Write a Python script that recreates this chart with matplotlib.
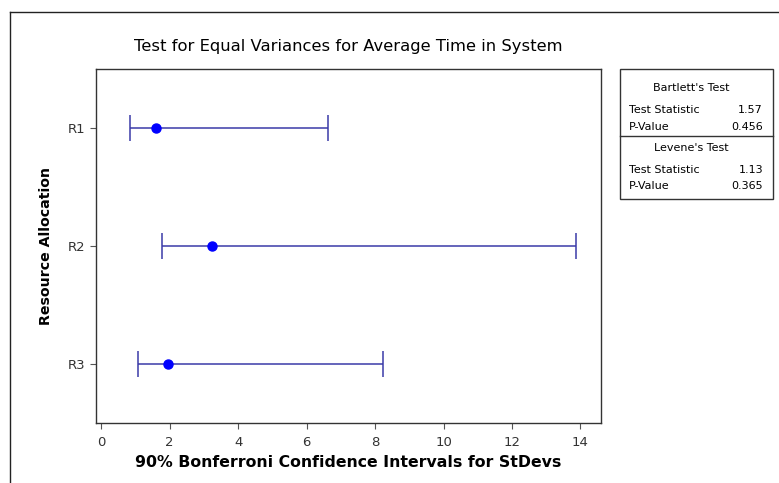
import matplotlib
matplotlib.use('Agg')
import matplotlib.pyplot as plt
from matplotlib.lines import Line2D

grupos = ['R1', 'R2', 'R3']
desvio = [1.60, 3.25, 1.95]
limite_inf = [0.85, 1.78, 1.08]
limite_sup = [6.62, 13.86, 8.22]
xticks = [0, 2, 4, 6, 8, 10, 12, 14]

bartlett = [('Test Statistic', '1.57'), ('P-Value', '0.456')]
levene = [('Test Statistic', '1.13'), ('P-Value', '0.365')]

plt.rcParams['font.family'] = ['DejaVu Sans']

fig = plt.figure(figsize=(7.79, 4.83), dpi=100)
ax = fig.add_axes([96/779, 1 - 423/483, (601-96)/779, (423-69)/483])

pos = list(range(1, len(grupos) + 1))
err_inf = [d - l for d, l in zip(desvio, limite_inf)]
err_sup = [u - d for d, u in zip(desvio, limite_sup)]
ax.errorbar(desvio, pos, xerr=[err_inf, err_sup], fmt='none',
            ecolor='#3a3aa8', elinewidth=1.1, capsize=9.5, capthick=1.1)
ax.plot(desvio, pos, 'o', color='#0000ff', markersize=6.5)

ax.set_ylim(3.5, 0.5)
ax.set_xlim(-0.15, 14.6)
ax.set_yticks(pos)
ax.set_yticklabels(grupos)
ax.set_xticks(xticks)
ax.tick_params(labelsize=9.5, length=4, color='#555555', labelcolor='#333333')
ax.tick_params(axis='x', pad=5)
for s in ax.spines.values():
    s.set_color('#333333')
    s.set_linewidth(1)

ax.set_title('Test for Equal Variances for Average Time in System', fontsize=11.8, pad=13)
ax.set_xlabel('90% Bonferroni Confidence Intervals for StDevs', fontsize=11.3, fontweight='bold', labelpad=5)
ax.set_ylabel('Resource Allocation', fontsize=10.2, fontweight='bold', labelpad=11)

# caixa com os testes
W, H = 779, 483
def fx(px): return px / W
def fy(py): return 1 - py / H

caixa = plt.Rectangle((fx(620), fy(199)), fx(773) - fx(620), fy(69) - fy(199),
                      transform=fig.transFigure, fill=False, edgecolor='#333333', linewidth=1)
fig.add_artist(caixa)
fig.add_artist(Line2D([fx(620), fx(773)], [fy(136), fy(136)], transform=fig.transFigure,
                      color='#333333', linewidth=1))

tam = 8
fig.text(fx(691), fy(88), "Bartlett's Test", fontsize=tam, ha='center', va='center')
for (nome, valor), y in zip(bartlett, [110, 127]):
    fig.text(fx(629), fy(y), nome, fontsize=tam, ha='left', va='center')
    fig.text(fx(763), fy(y), valor, fontsize=tam, ha='right', va='center')
fig.text(fx(691), fy(148), "Levene's Test", fontsize=tam, ha='center', va='center')
for (nome, valor), y in zip(levene, [170, 186]):
    fig.text(fx(629), fy(y), nome, fontsize=tam, ha='left', va='center')
    fig.text(fx(763), fy(y), valor, fontsize=tam, ha='right', va='center')

# moldura externa (cortada na imagem)
fig.add_artist(Line2D([fx(9.5), fx(9.5)], [fy(11.5), 0], transform=fig.transFigure, color='#222222', linewidth=1))
fig.add_artist(Line2D([fx(9.5), 1], [fy(11.5), fy(11.5)], transform=fig.transFigure, color='#222222', linewidth=1))

fig.savefig('out.png', dpi=100)
